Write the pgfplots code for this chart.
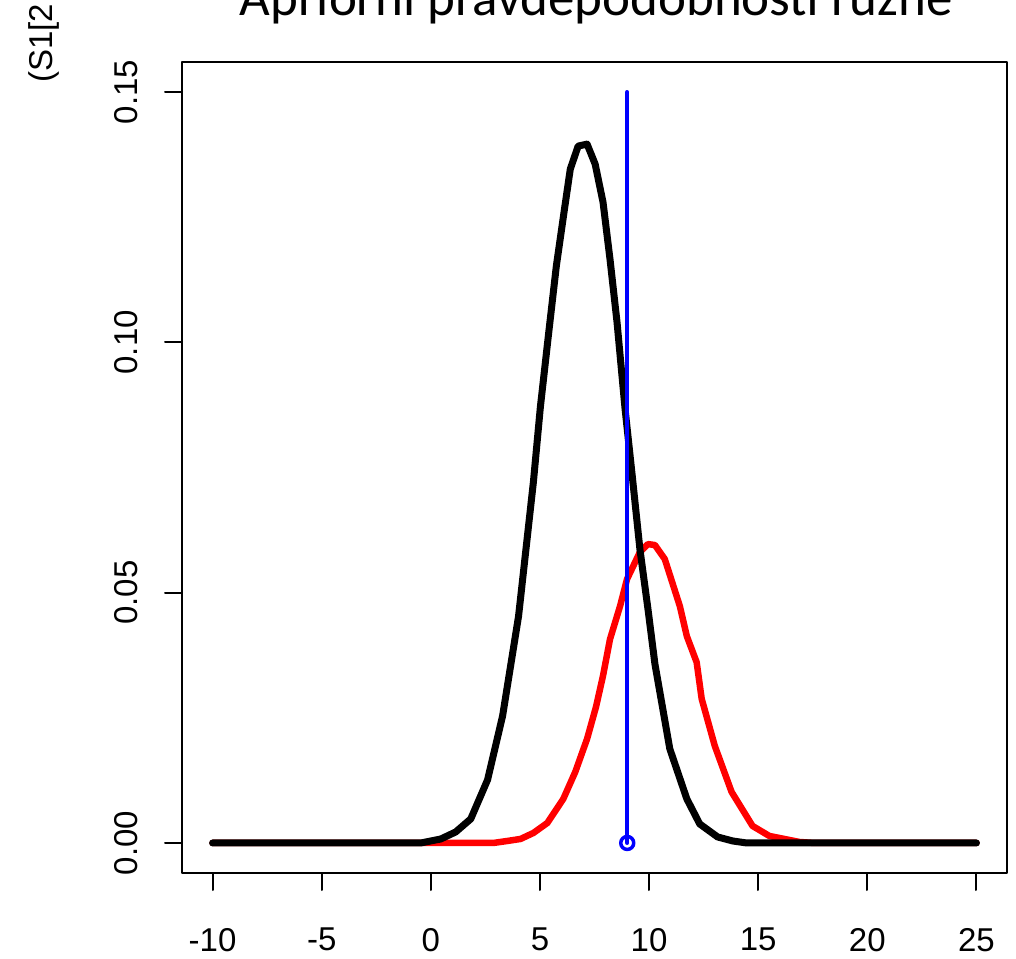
\documentclass[border=0pt]{standalone}
\usepackage{pgfplots}
\pgfplotsset{compat=1.18}
\usepackage{fontspec}
\setmainfont{Liberation Sans}
\newfontfamily\titlefont{Carlito}
\begin{document}
\begin{tikzpicture}[x=1pt,y=1pt]
\useasboundingbox (0,0) rectangle (1016,958);
\begin{axis}[
  at={(182pt,85pt)}, anchor=south west,
  scale only axis, width=825pt, height=811pt,
  xmin=-11.4, xmax=26.4, ymin=-0.006, ymax=0.156,
  axis line style={line width=2pt},
  xtick={-10,-5,0,5,10,15,20,25}, xticklabels={-10,-5,0,5,10,15,20,25},
  ytick={0,0.05,0.10,0.15}, yticklabels={0.00,0.05,0.10,0.15},
  xtick pos=bottom, ytick pos=left,
  tick align=outside, major tick length=17pt,
  every tick/.style={black, line width=2pt},
  tick label style={font=\fontsize{33}{40}\selectfont, inner sep=0pt},
  xticklabel style={anchor=north},
  yticklabel style={rotate=90, anchor=south},
  xticklabel shift=38pt, yticklabel shift=27pt,
  line join=round, line cap=round,
]
\addplot[red, line width=6.5pt] coordinates {
(-10,0) (2.87,0) (3.51,0.0004) (4.11,0.0008) (4.70,0.0020) (5.34,0.0040)
(6.07,0.0088) (6.62,0.0142) (7.16,0.0208) (7.57,0.0272) (7.89,0.0334)
(8.21,0.0407) (8.67,0.0473) (8.99,0.0527) (9.58,0.0581) (9.95,0.0597)
(10.27,0.0595) (10.72,0.0567) (11.41,0.0473) (11.73,0.0413) (12.18,0.0361)
(12.41,0.0288) (13.01,0.0194) (13.78,0.0102) (14.74,0.0034) (15.51,0.0014)
(16.20,0.0008) (16.88,0.0002) (17.57,0) (25,0)
};
\addplot[black, line width=7pt] coordinates {
(-10,0) (-0.46,0) (0,0.0004) (0.46,0.0008) (1.14,0.0022) (1.83,0.0048)
(2.60,0.0126) (3.29,0.0254) (4.02,0.0453) (4.70,0.0721) (5.02,0.0871)
(5.38,0.1011) (5.75,0.1152) (6.07,0.1250) (6.39,0.1346) (6.75,0.1392)
(7.16,0.1396) (7.53,0.1356) (7.89,0.1280) (8.21,0.1166) (8.53,0.1041)
(8.90,0.0867) (9.22,0.0737) (9.58,0.0587) (9.95,0.0467) (10.27,0.0357)
(10.95,0.0188) (11.73,0.0088) (12.32,0.0038) (13.14,0.0012) (13.83,0.0004)
(14.47,0) (25,0)
};
\addplot[blue, line width=4pt] coordinates {(9,0) (9,0.15)};
\addplot[blue, only marks, mark=o, mark size=6.5pt, line width=3.5pt] coordinates {(9,0)};
\end{axis}
\node[font=\titlefont\fontsize{53}{60}\selectfont, anchor=base, inner sep=0pt] at (596.5,942) {Apriorní pravděpodobnosti různé};
\node[rotate=90, anchor=base west, inner sep=0pt, font=\fontsize{33}{40}\selectfont] at (52,875) {(S1[2};
\end{tikzpicture}
\end{document}
